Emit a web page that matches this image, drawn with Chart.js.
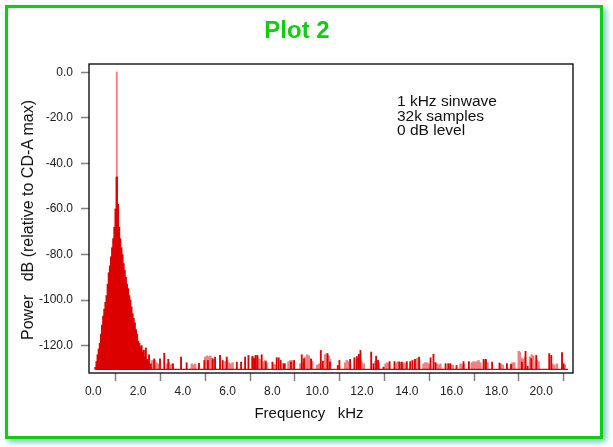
<!DOCTYPE html>
<html>
<head>
<meta charset="utf-8">
<script src="https://cdn.jsdelivr.net/npm/chart.js@4/dist/chart.umd.min.js"></script>
<style>
  body { margin:0; background:#fff; width:613px; height:447px; overflow:hidden; font-family:"Liberation Sans", Arial, sans-serif; }
  .frame { position:absolute; left:5px; top:5px; width:592px; height:428px; border:3px solid #11cc11; box-shadow:3px 3px 6px rgba(0,140,140,0.55); }
  #wrap { position:absolute; left:0; top:0; width:613px; height:447px; }
  .txt { position:absolute; color:#111; white-space:pre; }
  .title { position:absolute; left:0; width:594px; top:16px; text-align:center; color:#11cc11; font-weight:bold; font-size:24px; }
</style>
</head>
<body>
<div class="frame"></div>
<div id="wrap"><canvas id="myChart" width="613" height="447"></canvas></div>
<div class="title">Plot 2</div>
<div class="txt" style="left:397px; top:94px; font-size:15.5px; line-height:14.5px;">1 kHz sinwave
32k samples
0 dB level</div>
<div class="txt" style="left:0; width:618px; top:404px; font-size:15px; text-align:center;">Frequency   kHz</div>
<div class="txt" style="left:28px; top:220px; font-size:16px; transform:translate(-50%,-50%) rotate(-90deg);">Power   dB (relative to CD-A max)</div>
<script>
// main peak around 1 kHz (kHz, dB)
var peakFreq = [0.10,0.15,0.20,0.25,0.30,0.35,0.40,0.45,0.50,0.55,0.60,0.65,0.70,0.75,0.80,0.85,0.90,0.95,1.00,1.05,
  1.10,1.15,1.20,1.25,1.30,1.35,1.40,1.45,1.50,1.55,1.60,1.65,1.70,1.75,1.80,1.85,1.90,1.95,2.00,2.05,
  2.10,2.15,2.20,2.25,2.30,2.35,2.40,2.45]
var peakDb = [-129.5,-127,-124,-121.5,-119,-115,-111,-107,-104,-101,-98,-93,-88,-85,-81,-77,-73,-68,-60,-46,
  -58,-68,-73,-77,-80,-84,-87,-90,-93,-95,-98,-100,-103,-106,-108,-110,-113,-115,-118,-119,
  -121,-120,-123,-122,-125,-127,-126,-128]

// top of the peak line
var topFreq = [1.05]
var topDb = [0.0]

// dark red spikes in the noise floor
var spikeFreq = [2.35,2.49,2.57,2.72,2.98,3.17,3.35,3.55,3.92,4.17,4.72,4.96,5.12,5.33,5.44,5.66,5.78,5.96,6.41,6.60,
  6.78,6.93,7.11,7.18,7.25,7.33,7.52,7.70,8.00,8.19,8.28,8.37,8.49,8.55,8.83,8.97,9.31,9.41,9.73,10.16,
  10.25,10.46,10.57,10.92,10.99,11.47,11.66,11.77,11.86,11.93,12.41,12.51,12.63,12.72,12.96,13.23,13.45,13.67,13.78,14.00,
  14.15,14.25,14.36,14.55,15.06,15.19,15.28,15.73,15.85,15.94,16.22,16.53,16.77,17.43,17.53,17.81,18.14,18.47,18.66,19.14,
  19.30,19.39,19.56,19.78,20.36,20.45,20.93,21.00]
var spikeDb = [-121,-124,-128,-125.8,-125.8,-123.3,-126,-128,-125,-127.5,-127.8,-126.5,-126.5,-125.8,-125,-124.3,-126.5,-125,-127.2,-127.2,
  -125,-124.3,-124.7,-125.7,-124.3,-124.3,-124,-127,-127.2,-125.3,-125.3,-126.5,-127.9,-127.9,-127.2,-126.5,-124,-125.7,-126,-122.1,
  -126.8,-123.5,-127.2,-128.7,-126.5,-126,-125.3,-124.8,-123.8,-122.1,-122.8,-127.9,-124.6,-126.5,-129.4,-127,-127,-127.2,-127.2,-127,
  -127,-126.5,-126,-125,-125.3,-123.8,-127.4,-127.9,-127.9,-127.9,-128.7,-127,-127,-126,-126,-127.2,-127.6,-127.9,-128.3,-127.2,
  -122.5,-129,-125.7,-124.3,-123.5,-124.3,-123,-127.9]

// light red clumps in the noise floor
var clumpFreq = [2.40,2.45,2.62,2.68,2.75,2.82,2.88,3.30,3.38,3.45,3.55,4.40,4.48,4.55,5.00,5.08,5.15,5.22,5.30,5.40,
  5.90,5.98,6.05,6.15,6.22,7.10,7.17,7.25,7.35,7.42,7.60,7.68,7.75,8.05,8.12,8.72,8.80,8.88,8.95,9.25,
  9.35,9.48,9.55,9.62,9.70,9.78,10.00,10.08,10.35,10.42,10.50,10.57,11.25,11.32,11.40,11.78,11.85,11.95,12.00,12.08,
  12.60,12.68,12.75,13.05,13.12,13.20,13.55,13.62,13.70,13.78,13.88,13.95,14.40,14.48,14.55,14.75,14.82,14.90,15.00,15.35,
  15.42,15.50,15.95,16.05,16.40,16.48,16.55,16.90,16.98,17.05,17.12,17.20,17.28,17.45,17.52,17.60,18.20,18.28,18.65,18.72,
  18.80,19.00,19.05,19.12,19.20,19.28,19.50,19.58,19.65,19.80,19.88,20.50,20.58,20.70,21.05]
var clumpDb = [-126,-127,-126.5,-127,-126.5,-127.5,-128,-128,-127.5,-128.5,-128,-128,-128.5,-128,-125,-124.5,-125,-124.5,-125.5,-126,
  -127,-126.5,-127.5,-128,-127.5,-125,-125.5,-124.5,-125.5,-126,-127,-126.5,-127.5,-128,-128.5,-127,-126.5,-126.5,-127.5,-128,
  -127.5,-125,-124,-124.5,-125.5,-127,-128.5,-128,-124,-123.5,-124.5,-126,-127.5,-126.5,-127,-126,-125.5,-126.5,-127.5,-128,
  -127,-126.5,-127.5,-128,-127.5,-128,-127.5,-127,-127.5,-128,-127.5,-128,-126,-125.5,-126.5,-128,-127.5,-127.5,-128,-128,
  -128.5,-128,-128.5,-128.5,-128,-128.5,-128,-127.5,-127,-127.5,-127,-126.5,-127.5,-127,-126.5,-127.5,-128,-128.5,-128,-127.5,
  -127.5,-122.5,-123,-125.5,-126,-125,-125,-124,-124.5,-126.5,-127,-128,-128.5,-128,-128.5]

var floorDb = -130.4
var floorFreq = [0.10, 21.20]

var xTicks = [0,2,4,6,8,10,12,14,16,18,20]
var yTicks = [0,-20,-40,-60,-80,-100,-120]

function pts(xs, ys){ return xs.map(function(x,i){ return {x:x, y:ys[i]} }) }

var boxPlugin = {
  id:'box',
  afterDraw: function(chart){
    var a = chart.chartArea, c = chart.ctx
    c.save()
    c.strokeStyle = '#000'
    c.lineWidth = 1.3
    c.strokeRect(a.left, a.top, a.right - a.left, a.bottom - a.top)
    c.restore()
  }
}

var ctx = document.getElementById('myChart').getContext('2d')
var myChart = new Chart(ctx, {
  type:'bar',
  data:{
    datasets:[
      { type:'line', data: pts(floorFreq, [floorDb, floorDb]), borderColor:'#d40000', borderWidth:1.2, pointRadius:0 },
      { data: pts(peakFreq, peakDb), backgroundColor:'#dd0000', barThickness:1.7, base:floorDb },
      { data: pts(spikeFreq, spikeDb), backgroundColor:'#dd0000', barThickness:1.2, base:floorDb },
      { data: pts(clumpFreq, clumpDb), backgroundColor:'#ee8282', barThickness:1.9, base:floorDb },
      { data: pts(topFreq, topDb), backgroundColor:'#ee8080', barThickness:1.2, base:floorDb }
    ]
  },
  options:{
    responsive:false,
    animation:false,
    layout:{ padding:{ left:0, top:64, right:40, bottom:0 } },
    plugins:{ legend:{display:false}, tooltip:{enabled:false}, title:{display:false} },
    datasets:{ bar:{ grouped:false, borderWidth:0 } },
    scales:{
      x:{
        type:'linear', min:-0.19, max:21.42, offset:false,
        afterFit: function(s){ s.height = 74 },
        afterBuildTicks: function(s){ s.ticks = xTicks.map(function(v){ return {value:v} }) },
        ticks:{ callback: function(v){ return v.toFixed(1) }, color:'#222', font:{ family:'Liberation Sans', size:12 }, padding:3, maxRotation:0 },
        grid:{ drawOnChartArea:false, drawTicks:true, tickLength:8, tickColor:'#808080', tickWidth:1.5 },
        border:{ display:false }
      },
      y:{
        type:'linear', min:-132, max:3.6,
        afterFit: function(s){ s.width = 89 },
        afterBuildTicks: function(s){ s.ticks = yTicks.map(function(v){ return {value:v} }) },
        ticks:{ callback: function(v){ return v.toFixed(1) }, color:'#222', font:{ family:'Liberation Sans', size:12 }, padding:8 },
        grid:{ drawOnChartArea:false, drawTicks:true, tickLength:8, tickColor:'#808080', tickWidth:1.5 },
        border:{ display:false }
      }
    }
  },
  plugins:[boxPlugin]
})
</script>
</body>
</html>
